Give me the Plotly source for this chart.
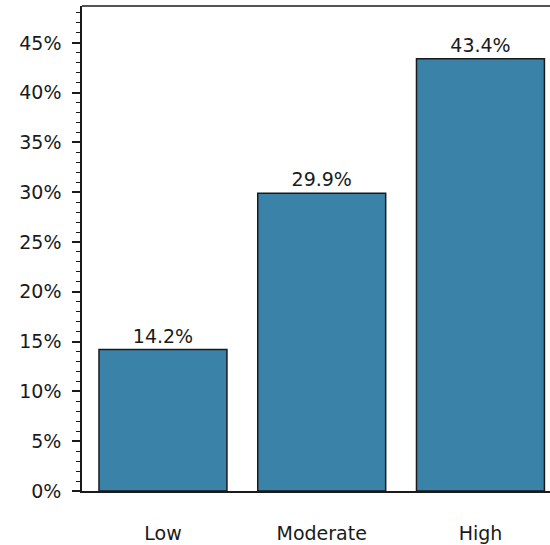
import plotly.graph_objects as go

categories = ["Low", "Moderate", "High"]
values = [14.2, 29.9, 43.4]
tick_vals = [0, 5, 10, 15, 20, 25, 30, 35, 40, 45]
tick_text = ["0%", "5%", "10%", "15%", "20%", "25%", "30%", "35%", "40%", "45%"]

FONT = "DejaVu Sans"
INK = "#1a1a1a"
FS = 19

fig = go.Figure(
    go.Bar(
        x=categories,
        y=values,
        width=0.806,
        marker=dict(color="#3a82a8", line=dict(color=INK, width=1.5)),
        text=[f"{v:.1f}%" for v in values],
        textposition="outside",
        textfont=dict(family=FONT, size=FS, color=INK),
        cliponaxis=False,
    )
)

fig.update_layout(
    width=550,
    height=545,
    margin=dict(l=82, r=0, t=6, b=54),
    paper_bgcolor="white",
    plot_bgcolor="white",
    showlegend=False,
    font=dict(family=FONT, size=FS, color=INK),
    xaxis=dict(
        range=[-0.51, 2.438],
        showline=True,
        linecolor=INK,
        linewidth=1.5,
        ticks="",
        showgrid=False,
        zeroline=False,
        ticklabelstandoff=24,
        tickfont=dict(family=FONT, size=FS, color=INK),
    ),
    yaxis=dict(
        range=[0, 48.7],
        tickvals=tick_vals,
        ticktext=tick_text,
        showline=True,
        linecolor=INK,
        linewidth=1.5,
        ticks="outside",
        ticklen=8,
        tickwidth=1.5,
        tickcolor=INK,
        showgrid=False,
        zeroline=False,
        ticklabelstandoff=7,
        tickfont=dict(family=FONT, size=FS, color=INK),
        minor=dict(dtick=1, ticks="outside", ticklen=4, tickwidth=1.2, tickcolor=INK, showgrid=False),
    ),
    shapes=[
        dict(type="line", xref="paper", yref="paper", x0=0, x1=1, y0=1, y1=1,
             line=dict(color=INK, width=1.5))
    ],
)

fig.write_html(
    "out.html",
    config={"displayModeBar": False},
    post_script="document.body.style.margin='0';document.body.style.padding='0';",
)
